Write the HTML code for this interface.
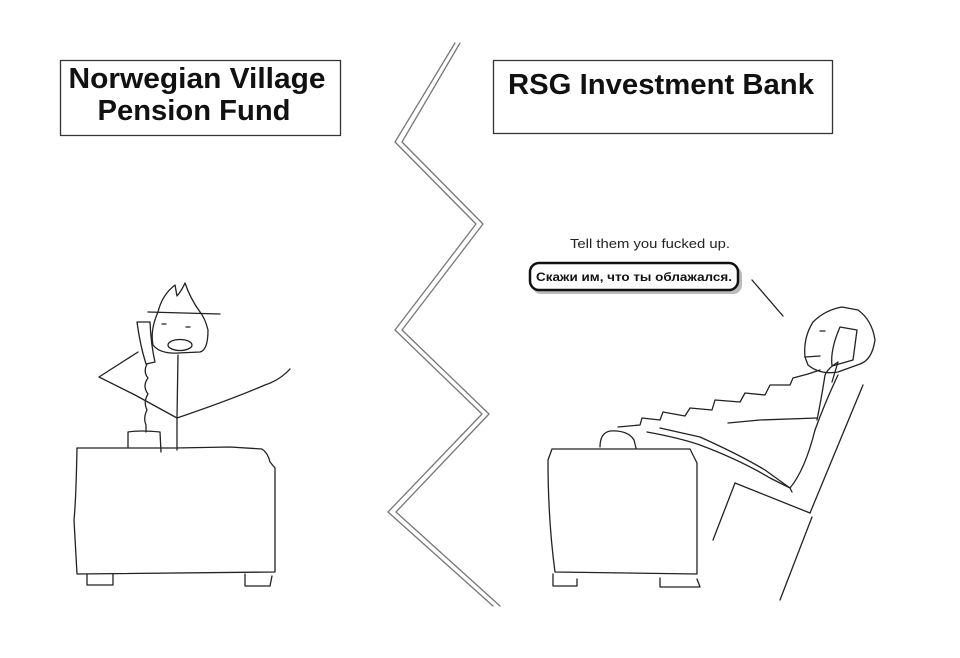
<!DOCTYPE html>
<html><head><meta charset="utf-8"><style>
html,body{margin:0;padding:0;background:#fff;width:960px;height:658px;overflow:hidden}
svg{display:block}
</style></head><body>
<svg width="960" height="658" viewBox="0 0 960 658" xmlns="http://www.w3.org/2000/svg">
<g fill="none" stroke="#222" stroke-width="1.3" stroke-linejoin="round" stroke-linecap="round">
<rect x="60.5" y="60.5" width="280" height="75" stroke="#333"/>
<rect x="493.5" y="60.5" width="339" height="73" stroke="#333"/>
<polyline points="455,43 395,142 476,224 395,330 482,414 388,512 493,606" stroke="#777"/>
<polyline points="460,43 402,142 483,224 402,330 489,414 396,512 500,606" stroke="#777"/>
<path d="M77,448 L175,448 L230,447 L262,449 Q268,453 270,462 L275,468 L275,572 L77,574 Q75,540 74,520 Q76,500 77,448 Z"/>
<path d="M87,574 L87,585 L113,585 L113,574 M245,574 L245,586 L270,586 L272,576"/>
<path d="M128,448 L128,432 Q140,430 160,432 L161,452"/>
<path d="M158,312 Q150,330 153,345 Q160,354 178,353 L200,352 Q208,350 208,330 Q205,318 200,312"/>
<path d="M148,312 L220,314"/>
<path d="M158,312 Q162,295 175,285 L177,296 Q182,290 185,283 Q190,298 200,312"/>
<ellipse cx="180" cy="345" rx="12" ry="5.5"/>
<path d="M162,324 L166,324 M186,327 L190,327"/>
<path d="M178,355 L177,418 L177,450"/>
<path d="M177,418 Q230,400 265,385 Q280,380 290,369"/>
<path d="M177,418 L135,395 L99,377 L138,352"/>
<path d="M137,322 L150,322 Q151,345 155,362 L146,364 Q140,345 137,322 Z"/>
<path d="M147,364 Q143,372 148,378 Q142,386 148,394 Q143,402 147,410 Q143,418 146,425 L146,432"/>
<path d="M552,449 L690,449 L694,457 L697,463 L697,574 L555,572 Q548,520 548,460 Z"/>
<path d="M553,574 L553,586 L577,586 L577,579 M660,578 L660,587 L700,587 L697,579"/>
<path d="M600,447 Q600,433 610,431 Q628,430 634,440 L636,448"/>
<path d="M863,385 L810,513"/>
<path d="M735,483 L810,513"/>
<path d="M735,483 L713,540"/>
<path d="M812,517 L780,600"/>
<path d="M647,432 Q680,438 700,445 Q740,460 770,478 L790,488 L792,492"/>
<path d="M660,428 L700,437 Q740,455 765,470 L790,488 Q805,470 815,430"/>
<path d="M618,427 L640,425 L642,418 L660,420 L663,412 L685,416 L690,408 L712,410 L715,400 L740,402 L745,393 L765,395 L770,385 L790,385 L793,378 L808,374 L820,370"/>
<path d="M728,423 L760,420 L817,418"/>
<path d="M817,420 Q822,395 825,375 Q828,368 838,362 L832,382"/>
<path d="M815,430 Q826,400 838,375"/>
<path d="M805,357 Q803,338 813,322 Q825,310 842,307 L858,310 Q872,320 875,340 Q872,360 860,364 L838,372 Q820,375 808,365 Z"/>
<path d="M840,327 L857,330 L853,360 L832,366 Q830,350 840,327 Z"/>
<path d="M820,331 L825,331 M805,357 L820,356"/>
<path d="M752,280 L783,316"/>
</g>
<rect x="532" y="266" width="210" height="28" rx="9" fill="#bbb" stroke="none"/>
<rect x="530" y="263" width="208" height="27" rx="9" fill="#fff" stroke="#111" stroke-width="2.5"/>
<g font-family="Liberation Sans, Arial, sans-serif" fill="#111" text-anchor="middle">
<text x="197" y="88" font-size="29" font-weight="bold" textLength="257" lengthAdjust="spacingAndGlyphs">Norwegian Village</text>
<text x="194" y="120" font-size="29" font-weight="bold" textLength="193" lengthAdjust="spacingAndGlyphs">Pension Fund</text>
<text x="661" y="94" font-size="29" font-weight="bold" textLength="306" lengthAdjust="spacingAndGlyphs">RSG Investment Bank</text>
<text x="650" y="248" font-size="12.5" fill="#222" textLength="160" lengthAdjust="spacingAndGlyphs">Tell them you fucked up.</text>
<text x="634" y="281" font-size="12" font-weight="bold" textLength="196" lengthAdjust="spacingAndGlyphs">Скажи им, что ты облажался.</text>
</g>
</svg>
</body></html>
